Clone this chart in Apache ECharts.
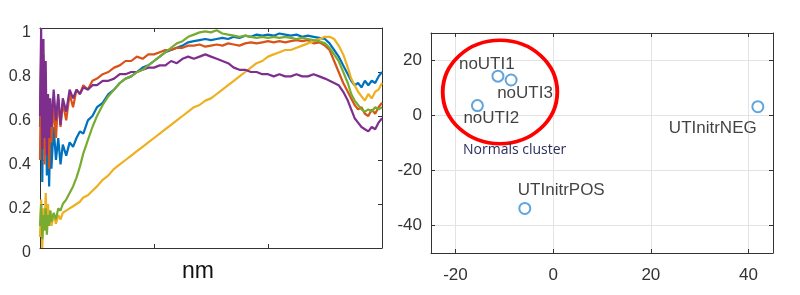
<!DOCTYPE html>
<html>
<head>
<meta charset="utf-8">
<script src="https://cdn.jsdelivr.net/npm/echarts@6/dist/echarts.min.js"></script>
<style>
html,body{margin:0;padding:0;background:#fff;}
#main{width:800px;height:295px;}
</style>
</head>
<body>
<div id="main"></div>
<script>
// ---- Left panel: spectra (x in arbitrary wavelength index, no tick labels) ----
const xs = [0,1,2,3,4,5,6,7,8,9,10, 12,14,16,18,20, 23,26,29,32,35,38, 42,46,
  50,55,60,65,70,75,80,85,90,95,100,105,110,115,120,125,130,135,140,145,150,155,160,165,170,175,180,185,190,195,200,205,210,215,220,225,230,235,240,245,250,
  254,258,262,266,270, 273,276,279,282,285,288,291,294,297,300];

const blueSpec = [0.55,0.85,0.30,0.72,0.45,0.78,0.33,0.60,0.28,0.52,0.36,
  0.55,0.40,0.50,0.38,0.47,
  0.42,0.48,0.46,0.50,0.53,0.52,
  0.58,0.60,
  0.64,0.66,0.70,0.72,0.75,0.77,0.78,0.80,0.82,0.83,
  0.85,0.87,0.89,0.90,0.91,0.92,0.935,0.94,0.945,0.95,
  0.945,0.95,0.955,0.95,0.96,0.955,0.965,0.96,0.97,0.965,
  0.97,0.965,0.975,0.97,0.965,0.97,0.96,0.965,0.96,0.955,
  0.95,
  0.93,0.90,0.87,0.83,0.79,
  0.76,0.74,0.75,0.73,0.76,0.74,0.76,0.75,0.78,0.80];

const orangeSpec = [0.40,0.92,0.50,0.88,0.38,0.75,0.45,0.70,0.36,0.62,0.48,
  0.65,0.50,0.68,0.55,0.66,
  0.58,0.70,0.64,0.72,0.70,0.74,
  0.72,0.76,
  0.77,0.79,0.80,0.82,0.83,0.85,0.85,0.87,0.86,0.88,
  0.88,0.89,0.90,0.90,0.91,0.91,0.92,0.92,0.925,0.915,
  0.92,0.925,0.92,0.93,0.925,0.92,0.93,0.935,0.93,0.935,
  0.94,0.935,0.94,0.935,0.94,0.945,0.94,0.945,0.93,0.935,
  0.92,
  0.90,0.85,0.80,0.75,0.71,
  0.68,0.65,0.63,0.64,0.61,0.60,0.63,0.61,0.64,0.66];

const yellowSpec = [0.05,0.22,0.00,0.18,0.08,0.25,0.10,0.20,0.12,0.17,0.10,
  0.15,0.11,0.15,0.13,0.16,
  0.17,0.18,0.19,0.20,0.21,0.23,
  0.24,0.26,
  0.28,0.31,0.33,0.36,0.38,0.40,0.42,0.44,0.46,0.48,
  0.50,0.52,0.54,0.56,0.58,0.60,0.62,0.64,0.65,0.67,
  0.68,0.70,0.72,0.74,0.76,0.78,0.80,0.82,0.84,0.85,
  0.87,0.88,0.89,0.90,0.90,0.91,0.92,0.93,0.94,0.95,
  0.96,
  0.96,0.95,0.92,0.88,0.82,
  0.77,0.74,0.71,0.69,0.67,0.70,0.68,0.71,0.72,0.75];

const purpleSpec = [0.60,1.00,0.45,0.95,0.50,0.85,0.42,0.70,0.50,0.68,0.55,
  0.72,0.58,0.70,0.56,0.68,
  0.62,0.72,0.68,0.72,0.70,0.73,
  0.72,0.74,
  0.74,0.76,0.76,0.77,0.79,0.79,0.80,0.80,0.81,0.82,
  0.82,0.83,0.83,0.85,0.84,0.86,0.87,0.86,0.87,0.88,
  0.87,0.86,0.85,0.84,0.82,0.81,0.81,0.80,0.80,0.79,
  0.79,0.78,0.79,0.78,0.78,0.79,0.78,0.78,0.79,0.78,
  0.77,
  0.76,0.75,0.74,0.71,0.67,
  0.63,0.59,0.57,0.55,0.54,0.53,0.55,0.54,0.57,0.59];

const greenSpec = [0.10,0.20,0.04,0.15,0.08,0.18,0.06,0.15,0.10,0.17,0.12,
  0.16,0.13,0.18,0.17,0.20,
  0.22,0.25,0.28,0.32,0.37,0.43,
  0.49,0.55,
  0.60,0.65,0.69,0.72,0.75,0.77,0.78,0.80,0.81,0.83,
  0.85,0.87,0.89,0.91,0.93,0.94,0.96,0.97,0.98,0.985,
  0.98,0.99,0.975,0.97,0.965,0.96,0.965,0.96,0.955,0.96,
  0.955,0.96,0.955,0.96,0.955,0.95,0.955,0.95,0.945,0.94,
  0.93,
  0.91,0.88,0.85,0.80,0.75,
  0.70,0.67,0.65,0.63,0.62,0.63,0.62,0.64,0.63,0.64];

const leftYTicks = [0, 0.2, 0.4, 0.6, 0.8, 1];

// ---- Right panel: score plot ----
const ptNames = ['noUTI1', 'noUTI3', 'noUTI2', 'UTInitrNEG', 'UTInitrPOS'];
const ptX = [-11.3, -8.6, -15.5, 41.9, -5.8];
const ptY = [14.3, 12.9, 3.6, 3.2, -33.8];
const clusterNote = 'Normals cluster';
const xAxisName = 'nm';

// styling (not data)
const labelOffsets = [[-39, -12], [-14, 13], [-14, 13], [-89, 22], [-7, -18]];
const FONT = '"Liberation Sans", Arial, Helvetica, sans-serif';
const AX = '#333333';

const chart = echarts.init(document.getElementById('main'), null, {renderer: 'canvas'});

function lineSeries(name, vals, color) {
  return {
    name, type: 'line', xAxisIndex: 0, yAxisIndex: 0,
    data: xs.map((x, i) => [x, vals[i]]),
    showSymbol: false, symbol: 'none',
    lineStyle: {color, width: 2.2},
    itemStyle: {color}
  };
}

const boxAxis = (grid, pos, extra) => Object.assign({
  gridIndex: grid, type: 'value', position: pos,
  axisLine: {show: true, onZero: false, lineStyle: {color: AX, width: 1}},
  axisTick: {show: true, inside: true, length: 4, lineStyle: {color: AX}},
  axisLabel: {show: false},
  splitLine: {show: false}
}, extra);

const option = {
  animation: false,
  textStyle: {fontFamily: FONT},
  grid: [
    {left: 40, top: 28, width: 342, height: 220},
    {left: 431, top: 33, width: 342, height: 220}
  ],
  xAxis: [
    boxAxis(0, 'bottom', {min: 0, max: 300, interval: 100,
      name: xAxisName, nameLocation: 'middle', nameGap: 24,
      nameTextStyle: {fontSize: 23, color: '#111', verticalAlign: 'middle', fontFamily: FONT,
        padding: [0, 26, 0, 0]}}),
    boxAxis(0, 'top', {min: 0, max: 300, interval: 100}),
    boxAxis(1, 'bottom', {min: -25, max: 45, splitNumber: 4,
      axisLabel: {show: true, margin: 14, fontSize: 17, color: '#333', fontFamily: FONT,
        showMinLabel: false, showMaxLabel: false,
        formatter: v => (v % 20 === 0 ? String(v) : '')},
      splitLine: {show: true, lineStyle: {color: '#e3e3e3', width: 1}}}),
    boxAxis(1, 'top', {min: -25, max: 45, splitNumber: 4})
  ],
  yAxis: [
    boxAxis(0, 'left', {min: leftYTicks[0], max: leftYTicks[leftYTicks.length - 1], interval: 0.2,
      axisLabel: {show: true, margin: 9, fontSize: 16, color: '#333', fontFamily: FONT,
        verticalAlign: 'top', lineHeight: 10}}),
    boxAxis(0, 'right', {min: 0, max: 1, interval: 0.2}),
    boxAxis(1, 'left', {min: -50, max: 30, splitNumber: 4,
      axisLabel: {show: true, margin: 9, fontSize: 17, color: '#333', fontFamily: FONT,
        showMinLabel: false, showMaxLabel: false,
        formatter: v => (v % 20 === 0 ? String(v) : '')},
      splitLine: {show: true, lineStyle: {color: '#e3e3e3', width: 1}}}),
    boxAxis(1, 'right', {min: -50, max: 30, splitNumber: 4})
  ],
  series: [
    lineSeries('s1', blueSpec, '#0072BD'),
    lineSeries('s2', orangeSpec, '#D95319'),
    lineSeries('s3', yellowSpec, '#EDB120'),
    lineSeries('s4', purpleSpec, '#7E2F8E'),
    lineSeries('s5', greenSpec, '#77AC30'),
    {
      type: 'scatter', xAxisIndex: 2, yAxisIndex: 2,
      symbol: 'emptyCircle', symbolSize: 11,
      itemStyle: {color: '#3a8fd3', borderColor: '#3a8fd3', borderWidth: 1.8},
      data: ptNames.map((n, i) => ({
        name: n, value: [ptX[i], ptY[i]],
        label: {show: true, position: 'inside', align: 'left', verticalAlign: 'middle',
          offset: labelOffsets[i], formatter: '{b}', color: '#111', fontSize: 17, fontFamily: FONT}
      }))
    }
  ],
  graphic: [
    {type: 'circle', x: 500, y: 92, scaleX: 1.108, scaleY: 1,
      shape: {cx: 0, cy: 0, r: 51.7},
      style: {fill: 'rgba(0,0,0,0)', stroke: '#ff0000', lineWidth: 3.5, strokeNoScale: true}, z: 10},
    {type: 'text', x: 463, y: 150,
      style: {text: clusterNote, fontSize: 14, fontFamily: '"Open Sans", sans-serif', fill: '#2a2e5e',
        align: 'left', verticalAlign: 'middle'}, z: 10}
  ]
};
chart.setOption(option);
</script>
</body>
</html>
